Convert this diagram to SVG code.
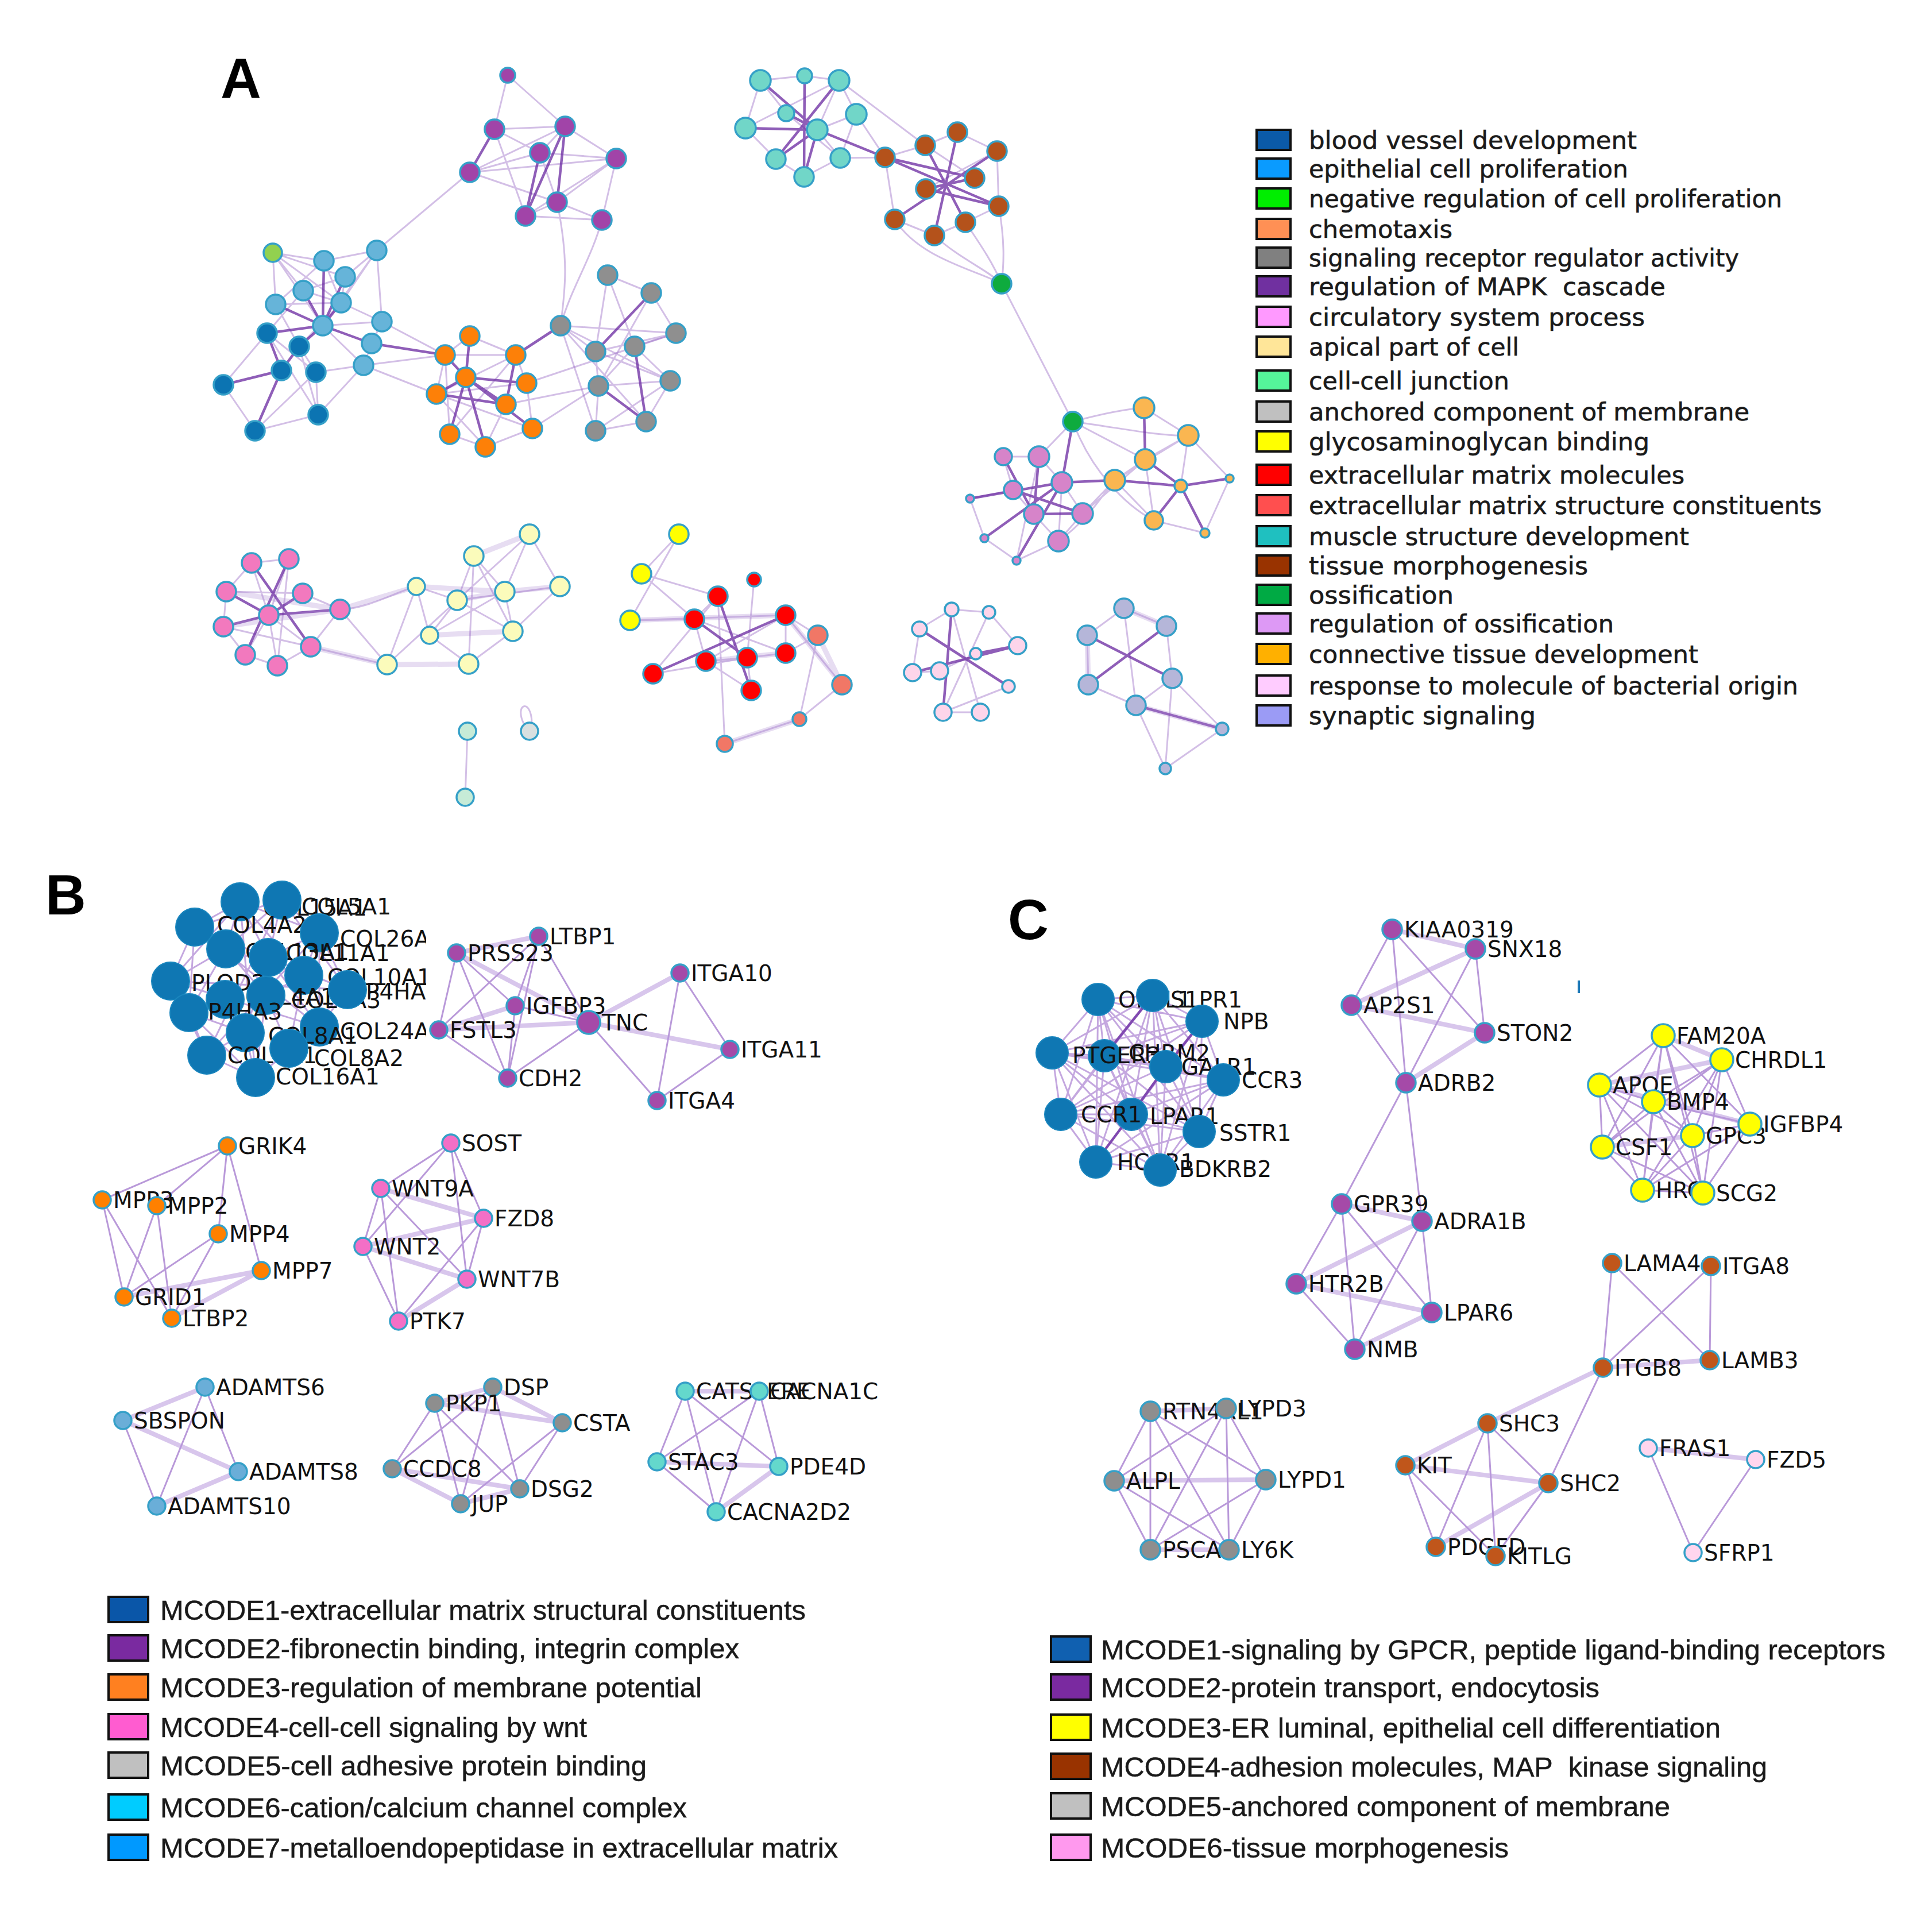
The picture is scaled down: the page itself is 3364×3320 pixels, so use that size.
<svg xmlns="http://www.w3.org/2000/svg" width="3364" height="3320" viewBox="0 0 3364 3320">
<style>
.e{fill:none;stroke:#9060c0;stroke-opacity:.4;stroke-width:3}
.ed{fill:none;stroke:#6a28a0;stroke-opacity:.75;stroke-width:4.5}
.ew{fill:none;stroke:#a884d0;stroke-opacity:.28;stroke-width:9}
.eb{fill:none;stroke:#a77fd0;stroke-opacity:.8;stroke-width:3}
.ebt{fill:none;stroke:#b898dc;stroke-opacity:.55;stroke-width:8}
.ec{fill:none;stroke:#8a50c0;stroke-opacity:.5;stroke-width:3}
.n{stroke:#35a0c8;stroke-width:3.5}
.nb{stroke:#1a86be;stroke-width:2}
.lb{font-family:"DejaVu Sans","Liberation Sans",sans-serif;font-size:39px;fill:#111}
.lg{font-family:"DejaVu Sans","Liberation Sans",sans-serif;font-size:43px;fill:#1a1a1a;stroke:#1a1a1a;stroke-width:.6}
.lm{font-family:"Liberation Sans",Arial,sans-serif;font-size:48px;fill:#1a1a1a;stroke:#1a1a1a;stroke-width:.5}
.bx{stroke:#111;stroke-width:4}
.pl{font-family:"Liberation Sans",Arial,sans-serif;font-weight:bold;font-size:98px;fill:#000}
.pu{fill:#a144a8}.lbl{fill:#66b4d9}.db{fill:#0c74b2}.gy{fill:#92d14f}.or{fill:#fd8008}.gr{fill:#8f8f8f}
.te{fill:#71d6c8}.br{fill:#b4521b}.gn{fill:#0eab3e}.pp{fill:#d684c9}.lo{fill:#fab651}.hp{fill:#f279be}
.py{fill:#fbfbbb}.ye{fill:#ffff00}.rd{fill:#ff0000}.sa{fill:#f17766}.lp{fill:#fdd5ea}.lv{fill:#b5b6d9}
.mi{fill:#c6ebd7}.lgr{fill:#d9e0e0}
.bb{fill:#0f77b3}.bp{fill:#a54aa8}.bo{fill:#ff8000}.bk{fill:#f36fc6}.bl{fill:#6aaed8}.bg{fill:#8e8e8e}
.bc{fill:#64d8cc}.cy{fill:#ffff00}.cb{fill:#c0561b}.cp{fill:#ffd6ee}
</style>
<defs>
<clipPath id="clipB"><rect x="0" y="1500" width="742" height="450"/></clipPath>
</defs>
<rect width="3364" height="3320" fill="#ffffff"/>

<text class="pl" x="384" y="170">A</text>
<text class="pl" x="79" y="1592">B</text>
<text class="pl" x="1755" y="1635">C</text>

<g id="connectors">
<path class="e" d="M884,131L861,225M884,131L984,220M861,225L984,220M861,225L940,266M861,225L915,376M984,220L940,266M984,220L1073,276M984,220L818,300M940,266L1073,276M940,266L818,300M940,266L970,352M1073,276L970,352M1073,276L915,376M1073,276L1048,383M818,300L970,352M818,300L1073,276M970,352L1048,383M915,376L1048,383M970,352L915,376M818,300L656,436M970,352C990,450 985,500 976,567M1048,383C1030,450 995,500 976,567"/>
<path class="ed" d="M861,225L818,300M984,220L915,376M940,266L915,376M984,220L970,352"/>
<path class="e" d="M475,440L564,454M475,440L601,482M475,440L528,506M475,440L594,527M475,440L562,567M475,440L480,530M564,454L656,436M564,454L480,530M564,454L594,527M656,436L601,482M656,436L594,527M656,436L562,567M656,436L665,560M601,482L528,506M601,482L594,527M528,506L594,527M480,530L594,527M594,527L665,560M562,567L665,560M665,560L647,598M647,598L633,636M562,567L633,636M528,506L465,580M480,530L521,603M465,580L550,648M521,603L550,648M550,648L554,722M465,580L389,670M554,722L444,750M521,603L554,722M465,580L554,722M594,527L521,603M633,636L550,648M633,636L554,722M665,560L775,618M633,636L775,618M633,636L760,686M389,670L444,750M444,750L550,648"/>
<path class="ed" d="M564,454L562,567M601,482L562,567M480,530L562,567M528,506L562,567M594,527L562,567M562,567L647,598M562,567L521,603M562,567L465,580M521,603L490,645M490,645L389,670M490,645L444,750M647,598L775,618M465,580L490,645"/>
<path class="e" d="M818,585L775,618M818,585L898,618M775,618L898,618M775,618L760,686M898,618L917,667M898,618L760,686M917,667L760,686M760,686L927,746M760,686L845,778M881,704L845,778M783,756L845,778M927,746L845,778M917,667L927,746M775,618L783,756M898,618L783,756M917,667L1177,580M881,704L1042,672M927,746L1042,672"/>
<path class="ed" d="M818,585L811,657M811,657L881,704M811,657L917,667M811,657L760,686M811,657L845,778M811,657L927,746M811,657L783,756M775,618L811,657M898,618L881,704M898,618L976,567M881,704L760,686"/>
<path class="e" d="M1058,479L1134,510M1058,479L1105,603M1058,479L1037,612M1134,510L1177,580M1134,510L1042,672M976,567L1177,580M976,567L1037,612M976,567L1167,663M976,567L1125,734M1177,580L1105,603M1177,580L1037,612M1105,603L1042,672M1105,603L1167,663M1037,612L1042,672M1037,612L1167,663M1042,672L1037,750M1167,663L1125,734M1167,663L1037,750M1125,734L1037,750M1042,672L1167,663M976,567L1037,750"/>
<path class="ed" d="M1134,510L1037,612M1105,603L1125,734M1042,672L1125,734"/>
<path class="e" d="M1324,140L1401,132M1401,132L1461,140M1324,140L1369,197M1324,140L1298,223M1461,140L1491,199M1491,199L1423,226M1491,199L1463,275M1298,223L1351,277M1351,277L1400,308M1463,275L1400,308M1369,197L1463,275M1461,140L1423,226M1423,226L1463,275M1298,223L1461,140M1491,199L1541,274M1463,275L1541,274M1461,140L1611,253"/>
<path class="ed" d="M1324,140L1423,226M1401,132L1400,308M1461,140L1351,277M1298,223L1423,226M1369,197L1423,226M1351,277L1423,226M1423,226L1541,274M1400,308L1423,226"/>
<path class="e" d="M1541,274L1611,253M1611,253L1667,230M1667,230L1736,263M1736,263L1739,359M1739,359L1681,387M1681,387L1627,410M1627,410L1558,382M1558,382L1541,274M1612,329L1736,263M1697,310L1611,253M1558,382C1600,450 1700,470 1744,494M1627,410C1670,450 1720,470 1744,494M1681,387C1710,430 1730,460 1744,494M1739,359C1750,420 1748,460 1744,494M1744,494L1868,734"/>
<path class="ed" d="M1541,274L1739,359M1611,253L1681,387M1667,230L1627,410M1736,263L1558,382M1697,310L1612,329M1612,329L1739,359M1541,274L1697,310"/>
<path class="e" d="M1868,734L1809,795M1868,734C1920,720 1960,712 1992,710M1868,734L1994,800M1868,734C1950,745 2020,760 2069,758M1868,734C1900,820 1960,880 2009,906M1747,795L1809,795M1809,795L1849,840M1849,840L1885,894M1885,894L1843,942M1800,895L1843,942M1747,795L1764,853M1764,853L1689,868M1689,868L1714,937M1714,937L1770,976M1770,976L1843,942M1770,976L1809,795M1849,840L1843,942M1764,853L1800,895M1885,894L1941,836M1885,894L1994,800M1843,942C1900,900 1920,860 1941,836M1992,710L2069,758M2069,758L1994,800M1994,800L1941,836M2069,758L2141,833M2141,833L2098,928M1941,836L2009,906M2009,906L2098,928M2069,758L2056,846M1994,800L2009,906M1941,836L2069,758"/>
<path class="ed" d="M1868,734L1849,840M1747,795L1800,895M1809,795L1800,895M1764,853L1885,894M1689,868L1849,840M1714,937L1849,840M1849,840L1770,976M1800,895L1885,894M1849,840L1941,836M1992,710L1994,800M1941,836L2056,846M2056,846L2141,833M2056,846L2098,928M1994,800L2056,846M2056,846L2009,906"/>
<path class="e" d="M468,1071L438,980M468,1071L503,973M468,1071L541,1126M468,1071L427,1140M468,1071L483,1159M438,980L503,973M503,973L483,1159M394,1030L527,1033M389,1091L541,1126M427,1140L483,1159M394,1030L389,1091M527,1033L592,1061M592,1061L541,1126M438,980L394,1030M541,1126L483,1159M389,1091L427,1140M592,1061C640,1060 690,1030 725,1021M592,1061L674,1157M541,1126C600,1140 640,1150 674,1157"/>
<path class="ed" d="M468,1071L394,1030M468,1071L527,1033M468,1071L592,1061M468,1071L389,1091M438,980L541,1126M503,973L427,1140"/>
<path class="ew" d="M394,1030L592,1061M389,1091L592,1061M592,1061L725,1021M541,1126L674,1157M922,930L825,968M725,1021L879,1030M975,1021L879,1030M674,1157L816,1156M748,1106L893,1099M796,1045L879,1030"/>
<path class="e" d="M922,930L975,1021M922,930L796,1045M922,930L879,1030M825,968L879,1030M825,968L816,1156M825,968L893,1099M725,1021L796,1045M725,1021L674,1157M975,1021L893,1099M796,1045L674,1157M796,1045L748,1106M796,1045L893,1099M879,1030L748,1106M879,1030L893,1099M725,1021L748,1106M975,1021L796,1045M825,968L796,1045M748,1106L816,1156M893,1099L816,1156M814,1273L810,1388M912,1260C895,1225 925,1215 926,1258"/>
<path class="e" d="M1182,930L1117,999M1182,930L1097,1080M1117,999L1250,1038M1117,999L1209,1078M1097,1080L1209,1078M1097,1080L1368,1071M1250,1038L1209,1078M1209,1078L1229,1151M1368,1071L1229,1151M1368,1071L1368,1137M1229,1151L1308,1202M1301,1145L1308,1202M1313,1009L1301,1145M1137,1173L1250,1038M1137,1173L1301,1145M1368,1137L1424,1106M1424,1106L1392,1252M1466,1192L1392,1252M1466,1192L1368,1071M1392,1252L1262,1295M1262,1295L1250,1038M1368,1071L1424,1106M1229,1151L1301,1145M1368,1137L1301,1145M1209,1078L1368,1137"/>
<path class="ed" d="M1250,1038L1308,1202M1368,1071L1137,1173M1209,1078L1301,1145"/>
<path class="ew" d="M1097,1080L1368,1071M1229,1151L1368,1137M1466,1192L1368,1071M1392,1252L1262,1295M1424,1106L1466,1192"/>
<path class="e" d="M1657,1061L1722,1066M1601,1095L1657,1061M1772,1124L1722,1066M1589,1171L1636,1168M1642,1240L1707,1240M1756,1195L1642,1240M1722,1066L1642,1240M1657,1061L1707,1240M1636,1168L1699,1138M1601,1095L1589,1171"/>
<path class="ed" d="M1601,1095L1756,1195M1589,1171L1772,1124M1657,1061L1642,1240M1699,1138L1772,1124"/>
<path class="e" d="M1957,1059L2031,1090M1957,1059L1893,1106M1957,1059L1978,1228M1893,1106L1895,1192M2031,1090L2041,1181M1895,1192L1978,1228M2041,1181L1978,1228M2041,1181L2029,1338M2128,1269L2029,1338M2041,1181L2128,1269M1978,1228L2029,1338"/>
<path class="ed" d="M1893,1106L2041,1181M2031,1090L1895,1192M1978,1228L2128,1269"/>
<path class="ew" d="M1957,1059L2031,1090M1893,1106L1895,1192M1978,1228L2128,1269"/>

<path class="ec" d="M418,1570L339,1614M418,1570L556,1624M418,1570L393,1652M418,1570L467,1667M418,1570L529,1698M418,1570L297,1708M491,1567L339,1614M491,1567L556,1624M491,1567L393,1652M491,1567L467,1667M491,1567L605,1723M339,1614L393,1652M339,1614L467,1667M339,1614L297,1708M339,1614L329,1763M556,1624L467,1667M556,1624L529,1698M556,1624L605,1723M556,1624L556,1788M393,1652L297,1708M393,1652L529,1698M393,1652L463,1733M393,1652L329,1763M467,1667L605,1723M467,1667L556,1788M467,1667L427,1798M297,1708L329,1763M297,1708L360,1837M297,1708L556,1788M529,1698L463,1733M529,1698L503,1825M605,1723L556,1788M605,1723L503,1825M329,1763L427,1798M329,1763L360,1837M329,1763L445,1876M463,1733L503,1825M463,1733L445,1876M556,1788L503,1825M556,1788L445,1876M427,1798L360,1837M427,1798L445,1876M360,1837L445,1876M339,1614L556,1788M297,1708L605,1723M491,1567L360,1837M418,1570L445,1876M556,1624L360,1837"/>
<path class="eb" d="M795,1659L764,1793M795,1659L897,1751M795,1659L884,1877M938,1630L764,1793M938,1630L897,1751M938,1630L1025,1780M938,1630L884,1877M764,1793L884,1877M897,1751L884,1877M1025,1780L884,1877M1025,1780L1144,1916M1184,1694L1271,1827M1184,1694L1144,1916M1271,1827L1144,1916M897,1751L1025,1780"/>
<path class="ebt" d="M795,1659L938,1630M795,1659L1025,1780M764,1793L1025,1780M764,1793L897,1751M1025,1780L1184,1694M1025,1780L1271,1827"/>
<path class="eb" d="M396,1995L178,2089M396,1995L273,2099M396,1995L380,2148M396,1995L455,2212M178,2089L216,2258M178,2089L299,2295M273,2099L216,2258M273,2099L299,2295M380,2148L216,2258M380,2148L299,2295"/>
<path class="ebt" d="M455,2212L216,2258M455,2212L299,2295"/>
<path class="eb" d="M785,1990L663,2069M785,1990L632,2170M785,1990L842,2121M785,1990L813,2227M663,2069L632,2170M663,2069L813,2227M663,2069L694,2300M632,2170L694,2300M842,2121L813,2227M842,2121L694,2300"/>
<path class="ebt" d="M663,2069L842,2121M632,2170L842,2121M632,2170L813,2227M813,2227L694,2300"/>
<path class="eb" d="M357,2415L415,2562M357,2415L273,2622M214,2473L273,2622"/>
<path class="ebt" d="M357,2415L214,2473M214,2473L415,2562M415,2562L273,2622"/>
<path class="eb" d="M757,2443L683,2557M757,2443L802,2618M757,2443L905,2592M858,2415L683,2557M858,2415L802,2618M858,2415L905,2592M979,2477L802,2618M979,2477L905,2592"/>
<path class="ebt" d="M757,2443L858,2415M858,2415L979,2477M757,2443L979,2477M683,2557L905,2592M802,2618L905,2592M683,2557L802,2618"/>
<path class="eb" d="M1193,2422L1144,2545M1193,2422L1356,2553M1193,2422L1247,2632M1322,2422L1144,2545M1322,2422L1356,2553M1322,2422L1247,2632M1144,2545L1247,2632"/>
<path class="ebt" d="M1193,2422L1322,2422M1144,2545L1356,2553M1356,2553L1247,2632"/>

<path class="ec" d="M1912,1740L2007,1733M1912,1740L2093,1778M1912,1740L1832,1833M1912,1740L1923,1838M1912,1740L2030,1857M1912,1740L2130,1880M1912,1740L1847,1940M1912,1740L1970,1940M1912,1740L2088,1970M1912,1740L1908,2023M1912,1740L2020,2037M2007,1733L2093,1778M2007,1733L1832,1833M2007,1733L1923,1838M2007,1733L2030,1857M2007,1733L2130,1880M2007,1733L1847,1940M2007,1733L1970,1940M2007,1733L2088,1970M2007,1733L1908,2023M2007,1733L2020,2037M2093,1778L1832,1833M2093,1778L1923,1838M2093,1778L2030,1857M2093,1778L2130,1880M2093,1778L1847,1940M2093,1778L1970,1940M2093,1778L2088,1970M2093,1778L1908,2023M2093,1778L2020,2037M1832,1833L1923,1838M1832,1833L2030,1857M1832,1833L2130,1880M1832,1833L1847,1940M1832,1833L1970,1940M1832,1833L2088,1970M1832,1833L1908,2023M1832,1833L2020,2037M1923,1838L2030,1857M1923,1838L2130,1880M1923,1838L1847,1940M1923,1838L1970,1940M1923,1838L2088,1970M1923,1838L1908,2023M1923,1838L2020,2037M2030,1857L2130,1880M2030,1857L1847,1940M2030,1857L1970,1940M2030,1857L2088,1970M2030,1857L1908,2023M2030,1857L2020,2037M2130,1880L1847,1940M2130,1880L1970,1940M2130,1880L2088,1970M2130,1880L1908,2023M2130,1880L2020,2037M1847,1940L1970,1940M1847,1940L2088,1970M1847,1940L1908,2023M1847,1940L2020,2037M1970,1940L2088,1970M1970,1940L1908,2023M1970,1940L2020,2037M2088,1970L1908,2023M2088,1970L2020,2037M1908,2023L2020,2037"/>
<path class="ed" d="M2007,1733L1923,1838M2093,1778L2030,1857M2030,1857L1970,1940M1970,1940L1908,2023"/>
<path class="eb" d="M2424,1618L2353,1750M2424,1618L2585,1798M2424,1618L2448,1885M2569,1652L2585,1798M2569,1652L2448,1885M2353,1750L2448,1885M2448,1885L2336,2096M2448,1885L2476,2126M2336,2096L2257,2235M2336,2096L2359,2349M2336,2096L2493,2285M2476,2126L2359,2349M2476,2126L2493,2285M2257,2235L2359,2349"/>
<path class="ebt" d="M2424,1618L2569,1652M2569,1652L2353,1750M2353,1750L2585,1798M2585,1798L2448,1885M2336,2096L2476,2126M2476,2126L2257,2235M2257,2235L2493,2285M2493,2285L2359,2349"/>
<path class="eb" d="M2896,1803L2785,1889M2896,1803L2879,1918M2896,1803L3047,1957M2896,1803L2947,1977M2896,1803L2790,1997M2896,1803L2860,2072M2896,1803L2965,2077M2998,1845L2879,1918M2998,1845L3047,1957M2998,1845L2947,1977M2998,1845L2790,1997M2998,1845L2860,2072M2998,1845L2965,2077M2785,1889L2879,1918M2785,1889L2947,1977M2785,1889L2790,1997M2785,1889L2860,2072M2785,1889L2965,2077M2879,1918L3047,1957M2879,1918L2947,1977M2879,1918L2790,1997M2879,1918L2860,2072M2879,1918L2965,2077M3047,1957L2947,1977M3047,1957L2860,2072M3047,1957L2965,2077M2947,1977L2860,2072M2947,1977L2965,2077M2790,1997L2860,2072M2790,1997L2965,2077M2860,2072L2965,2077"/>
<path class="ebt" d="M2896,1803L2998,1845M2998,1845L2785,1889M2785,1889L3047,1957M2947,1977L2790,1997"/>
<path class="eb" d="M2807,2199L2791,2381M2807,2199L2977,2368M2979,2204L2791,2381M2979,2204L2977,2368M2791,2381L2696,2582M2590,2478L2696,2582M2590,2478L2500,2693M2590,2478L2604,2709M2447,2551L2500,2693M2447,2551L2604,2709M2696,2582L2604,2709"/>
<path class="ebt" d="M2791,2381L2977,2368M2791,2381L2590,2478M2590,2478L2447,2551M2447,2551L2696,2582M2696,2582L2500,2693"/>
<path class="eb" d="M2003,2457L1940,2578M2003,2457L2204,2576M2003,2457L2003,2698M2003,2457L2140,2698M2135,2452L1940,2578M2135,2452L2204,2576M2135,2452L2003,2698M2135,2452L2140,2698M1940,2578L2003,2698M1940,2578L2140,2698M2204,2576L2003,2698M2204,2576L2140,2698"/>
<path class="ebt" d="M1940,2578L2204,2576M2003,2457L2135,2452M2003,2698L2140,2698"/>
<path class="eb" d="M2870,2521L2948,2703M3057,2541L2948,2703"/>
<path class="ebt" d="M2870,2521L3057,2541"/>
<path d="M2749,1707L2749,1729" stroke="#1f7ab8" stroke-width="4" fill="none"/>
</g>

<g id="a-pu1"><circle class="n pu" cx="884" cy="131" r="13"/></g>
<g id="a-pu2"><circle class="n pu" cx="861" cy="225" r="17"/></g>
<g id="a-pu3"><circle class="n pu" cx="984" cy="220" r="17"/></g>
<g id="a-pu4"><circle class="n pu" cx="940" cy="266" r="17"/></g>
<g id="a-pu5"><circle class="n pu" cx="1073" cy="276" r="17"/></g>
<g id="a-pu6"><circle class="n pu" cx="818" cy="300" r="17"/></g>
<g id="a-pu7"><circle class="n pu" cx="970" cy="352" r="17"/></g>
<g id="a-pu8"><circle class="n pu" cx="915" cy="376" r="17"/></g>
<g id="a-pu9"><circle class="n pu" cx="1048" cy="383" r="17"/></g>
<g id="a-gy1"><circle class="n gy" cx="475" cy="440" r="16"/></g>
<g id="a-lb1"><circle class="n lbl" cx="564" cy="454" r="17"/></g>
<g id="a-lb2"><circle class="n lbl" cx="656" cy="436" r="17"/></g>
<g id="a-lb3"><circle class="n lbl" cx="601" cy="482" r="17"/></g>
<g id="a-lb4"><circle class="n lbl" cx="528" cy="506" r="17"/></g>
<g id="a-lb5"><circle class="n lbl" cx="480" cy="530" r="17"/></g>
<g id="a-lb6"><circle class="n lbl" cx="594" cy="527" r="17"/></g>
<g id="a-lb7"><circle class="n lbl" cx="562" cy="567" r="17"/></g>
<g id="a-lb8"><circle class="n lbl" cx="665" cy="560" r="17"/></g>
<g id="a-lb9"><circle class="n lbl" cx="647" cy="598" r="17"/></g>
<g id="a-lb10"><circle class="n lbl" cx="633" cy="636" r="17"/></g>
<g id="a-db1"><circle class="n db" cx="465" cy="580" r="17"/></g>
<g id="a-db2"><circle class="n db" cx="521" cy="603" r="17"/></g>
<g id="a-db3"><circle class="n db" cx="490" cy="645" r="17"/></g>
<g id="a-db4"><circle class="n db" cx="550" cy="648" r="17"/></g>
<g id="a-db5"><circle class="n db" cx="389" cy="670" r="17"/></g>
<g id="a-db6"><circle class="n db" cx="554" cy="722" r="17"/></g>
<g id="a-db7"><circle class="n db" cx="444" cy="750" r="17"/></g>
<g id="a-or1"><circle class="n or" cx="818" cy="585" r="17"/></g>
<g id="a-or2"><circle class="n or" cx="775" cy="618" r="17"/></g>
<g id="a-or3"><circle class="n or" cx="898" cy="618" r="17"/></g>
<g id="a-or4"><circle class="n or" cx="811" cy="657" r="17"/></g>
<g id="a-or5"><circle class="n or" cx="917" cy="667" r="17"/></g>
<g id="a-or6"><circle class="n or" cx="760" cy="686" r="17"/></g>
<g id="a-or7"><circle class="n or" cx="881" cy="704" r="17"/></g>
<g id="a-or8"><circle class="n or" cx="927" cy="746" r="17"/></g>
<g id="a-or9"><circle class="n or" cx="783" cy="756" r="17"/></g>
<g id="a-or10"><circle class="n or" cx="845" cy="778" r="17"/></g>
<g id="a-gr1"><circle class="n gr" cx="1058" cy="479" r="17"/></g>
<g id="a-gr2"><circle class="n gr" cx="1134" cy="510" r="17"/></g>
<g id="a-gr3"><circle class="n gr" cx="976" cy="567" r="17"/></g>
<g id="a-gr4"><circle class="n gr" cx="1177" cy="580" r="17"/></g>
<g id="a-gr5"><circle class="n gr" cx="1105" cy="603" r="17"/></g>
<g id="a-gr6"><circle class="n gr" cx="1037" cy="612" r="17"/></g>
<g id="a-gr7"><circle class="n gr" cx="1042" cy="672" r="17"/></g>
<g id="a-gr8"><circle class="n gr" cx="1167" cy="663" r="17"/></g>
<g id="a-gr9"><circle class="n gr" cx="1125" cy="734" r="17"/></g>
<g id="a-gr10"><circle class="n gr" cx="1037" cy="750" r="17"/></g>
<g id="a-te1"><circle class="n te" cx="1324" cy="140" r="18"/></g>
<g id="a-te2"><circle class="n te" cx="1401" cy="132" r="13"/></g>
<g id="a-te3"><circle class="n te" cx="1461" cy="140" r="18"/></g>
<g id="a-te4"><circle class="n te" cx="1369" cy="197" r="14"/></g>
<g id="a-te5"><circle class="n te" cx="1491" cy="199" r="18"/></g>
<g id="a-te6"><circle class="n te" cx="1298" cy="223" r="18"/></g>
<g id="a-te7"><circle class="n te" cx="1423" cy="226" r="18"/></g>
<g id="a-te8"><circle class="n te" cx="1351" cy="277" r="17"/></g>
<g id="a-te9"><circle class="n te" cx="1463" cy="275" r="17"/></g>
<g id="a-te10"><circle class="n te" cx="1400" cy="308" r="17"/></g>
<g id="a-br1"><circle class="n br" cx="1667" cy="230" r="17"/></g>
<g id="a-br2"><circle class="n br" cx="1611" cy="253" r="17"/></g>
<g id="a-br3"><circle class="n br" cx="1736" cy="263" r="17"/></g>
<g id="a-br4"><circle class="n br" cx="1541" cy="274" r="17"/></g>
<g id="a-br5"><circle class="n br" cx="1697" cy="310" r="17"/></g>
<g id="a-br6"><circle class="n br" cx="1612" cy="329" r="17"/></g>
<g id="a-br7"><circle class="n br" cx="1739" cy="359" r="17"/></g>
<g id="a-br8"><circle class="n br" cx="1558" cy="382" r="17"/></g>
<g id="a-br9"><circle class="n br" cx="1681" cy="387" r="17"/></g>
<g id="a-br10"><circle class="n br" cx="1627" cy="410" r="17"/></g>
<g id="a-gn1"><circle class="n gn" cx="1744" cy="494" r="17"/></g>
<g id="a-gn2"><circle class="n gn" cx="1868" cy="734" r="17"/></g>
<g id="a-pp1"><circle class="n pp" cx="1747" cy="795" r="15"/></g>
<g id="a-pp2"><circle class="n pp" cx="1809" cy="795" r="18"/></g>
<g id="a-pp3"><circle class="n pp" cx="1849" cy="840" r="18"/></g>
<g id="a-pp4"><circle class="n pp" cx="1764" cy="853" r="16"/></g>
<g id="a-pp5"><circle class="n pp" cx="1885" cy="894" r="18"/></g>
<g id="a-pp6"><circle class="n pp" cx="1800" cy="895" r="17"/></g>
<g id="a-pp7"><circle class="n pp" cx="1843" cy="942" r="18"/></g>
<g id="a-pp8"><circle class="n pp" cx="1689" cy="868" r="7"/></g>
<g id="a-pp9"><circle class="n pp" cx="1714" cy="937" r="7"/></g>
<g id="a-pp10"><circle class="n pp" cx="1770" cy="976" r="7"/></g>
<g id="a-lo1"><circle class="n lo" cx="1992" cy="710" r="18"/></g>
<g id="a-lo2"><circle class="n lo" cx="2069" cy="758" r="18"/></g>
<g id="a-lo3"><circle class="n lo" cx="1994" cy="800" r="18"/></g>
<g id="a-lo4"><circle class="n lo" cx="1941" cy="836" r="18"/></g>
<g id="a-lo5"><circle class="n lo" cx="2056" cy="846" r="11"/></g>
<g id="a-lo6"><circle class="n lo" cx="2141" cy="833" r="7"/></g>
<g id="a-lo7"><circle class="n lo" cx="2009" cy="906" r="16"/></g>
<g id="a-lo8"><circle class="n lo" cx="2098" cy="928" r="8"/></g>
<g id="a-hp1"><circle class="n hp" cx="438" cy="980" r="17"/></g>
<g id="a-hp2"><circle class="n hp" cx="503" cy="973" r="17"/></g>
<g id="a-hp3"><circle class="n hp" cx="394" cy="1030" r="17"/></g>
<g id="a-hp4"><circle class="n hp" cx="527" cy="1033" r="17"/></g>
<g id="a-hp5"><circle class="n hp" cx="468" cy="1071" r="17"/></g>
<g id="a-hp6"><circle class="n hp" cx="592" cy="1061" r="17"/></g>
<g id="a-hp7"><circle class="n hp" cx="389" cy="1091" r="17"/></g>
<g id="a-hp8"><circle class="n hp" cx="541" cy="1126" r="17"/></g>
<g id="a-hp9"><circle class="n hp" cx="427" cy="1140" r="17"/></g>
<g id="a-hp10"><circle class="n hp" cx="483" cy="1159" r="17"/></g>
<g id="a-py1"><circle class="n py" cx="922" cy="930" r="17"/></g>
<g id="a-py2"><circle class="n py" cx="825" cy="968" r="17"/></g>
<g id="a-py3"><circle class="n py" cx="725" cy="1021" r="15"/></g>
<g id="a-py4"><circle class="n py" cx="975" cy="1021" r="17"/></g>
<g id="a-py5"><circle class="n py" cx="796" cy="1045" r="17"/></g>
<g id="a-py6"><circle class="n py" cx="879" cy="1030" r="17"/></g>
<g id="a-py7"><circle class="n py" cx="748" cy="1106" r="15"/></g>
<g id="a-py8"><circle class="n py" cx="893" cy="1099" r="17"/></g>
<g id="a-py9"><circle class="n py" cx="674" cy="1157" r="17"/></g>
<g id="a-py10"><circle class="n py" cx="816" cy="1156" r="17"/></g>
<g id="a-ye1"><circle class="n ye" cx="1182" cy="930" r="17"/></g>
<g id="a-ye2"><circle class="n ye" cx="1117" cy="999" r="17"/></g>
<g id="a-ye3"><circle class="n ye" cx="1097" cy="1080" r="17"/></g>
<g id="a-rd1"><circle class="n rd" cx="1313" cy="1009" r="12"/></g>
<g id="a-rd2"><circle class="n rd" cx="1250" cy="1038" r="17"/></g>
<g id="a-rd3"><circle class="n rd" cx="1209" cy="1078" r="17"/></g>
<g id="a-rd4"><circle class="n rd" cx="1368" cy="1071" r="17"/></g>
<g id="a-rd5"><circle class="n rd" cx="1368" cy="1137" r="17"/></g>
<g id="a-rd6"><circle class="n rd" cx="1229" cy="1151" r="17"/></g>
<g id="a-rd7"><circle class="n rd" cx="1301" cy="1145" r="17"/></g>
<g id="a-rd8"><circle class="n rd" cx="1137" cy="1173" r="17"/></g>
<g id="a-rd9"><circle class="n rd" cx="1308" cy="1202" r="17"/></g>
<g id="a-sa1"><circle class="n sa" cx="1424" cy="1106" r="17"/></g>
<g id="a-sa2"><circle class="n sa" cx="1466" cy="1192" r="17"/></g>
<g id="a-sa3"><circle class="n sa" cx="1392" cy="1252" r="12"/></g>
<g id="a-sa4"><circle class="n sa" cx="1262" cy="1295" r="14"/></g>
<g id="a-lp1"><circle class="n lp" cx="1657" cy="1061" r="12"/></g>
<g id="a-lp2"><circle class="n lp" cx="1722" cy="1066" r="11"/></g>
<g id="a-lp3"><circle class="n lp" cx="1601" cy="1095" r="13"/></g>
<g id="a-lp4"><circle class="n lp" cx="1772" cy="1124" r="15"/></g>
<g id="a-lp5"><circle class="n lp" cx="1699" cy="1138" r="10"/></g>
<g id="a-lp6"><circle class="n lp" cx="1589" cy="1171" r="15"/></g>
<g id="a-lp7"><circle class="n lp" cx="1636" cy="1168" r="15"/></g>
<g id="a-lp8"><circle class="n lp" cx="1756" cy="1195" r="11"/></g>
<g id="a-lp9"><circle class="n lp" cx="1642" cy="1240" r="15"/></g>
<g id="a-lp10"><circle class="n lp" cx="1707" cy="1240" r="15"/></g>
<g id="a-lv1"><circle class="n lv" cx="1957" cy="1059" r="17"/></g>
<g id="a-lv2"><circle class="n lv" cx="2031" cy="1090" r="17"/></g>
<g id="a-lv3"><circle class="n lv" cx="1893" cy="1106" r="17"/></g>
<g id="a-lv4"><circle class="n lv" cx="2041" cy="1181" r="17"/></g>
<g id="a-lv5"><circle class="n lv" cx="1895" cy="1192" r="17"/></g>
<g id="a-lv6"><circle class="n lv" cx="1978" cy="1228" r="17"/></g>
<g id="a-lv7"><circle class="n lv" cx="2128" cy="1269" r="11"/></g>
<g id="a-lv8"><circle class="n lv" cx="2029" cy="1338" r="10"/></g>
<g id="a-mi1"><circle class="n mi" cx="814" cy="1273" r="15"/></g>
<g id="a-mi2"><circle class="n mi" cx="810" cy="1388" r="15"/></g>
<g id="a-lg1"><circle class="n lgr" cx="922" cy="1273" r="15"/></g>

<g id="legend-a">
<rect class="bx" x="2188" y="226" width="59" height="35" fill="#0b5aa8"/><text class="lg" x="2279" y="259" textLength="571" lengthAdjust="spacingAndGlyphs">blood vessel development</text>
<rect class="bx" x="2188" y="276" width="59" height="35" fill="#0a9bff"/><text class="lg" x="2279" y="309" textLength="556" lengthAdjust="spacingAndGlyphs">epithelial cell proliferation</text>
<rect class="bx" x="2188" y="328" width="59" height="35" fill="#00ee00"/><text class="lg" x="2279" y="361" textLength="824" lengthAdjust="spacingAndGlyphs">negative regulation of cell proliferation</text>
<rect class="bx" x="2188" y="381" width="59" height="35" fill="#ff9055"/><text class="lg" x="2279" y="414" textLength="250" lengthAdjust="spacingAndGlyphs">chemotaxis</text>
<rect class="bx" x="2188" y="431" width="59" height="35" fill="#808080"/><text class="lg" x="2279" y="464" textLength="749" lengthAdjust="spacingAndGlyphs">signaling receptor regulator activity</text>
<rect class="bx" x="2188" y="481" width="59" height="35" fill="#7030a0"/><text class="lg" x="2279" y="514" textLength="621" lengthAdjust="spacingAndGlyphs">regulation of MAPK&#160; cascade</text>
<rect class="bx" x="2188" y="534" width="59" height="35" fill="#ff99ff"/><text class="lg" x="2279" y="567" textLength="585" lengthAdjust="spacingAndGlyphs">circulatory system process</text>
<rect class="bx" x="2188" y="586" width="59" height="35" fill="#ffe699"/><text class="lg" x="2279" y="619" textLength="366" lengthAdjust="spacingAndGlyphs">apical part of cell</text>
<rect class="bx" x="2188" y="645" width="59" height="35" fill="#55f59a"/><text class="lg" x="2279" y="678" textLength="349" lengthAdjust="spacingAndGlyphs">cell-cell junction</text>
<rect class="bx" x="2188" y="699" width="59" height="35" fill="#c0c0c0"/><text class="lg" x="2279" y="732" textLength="767" lengthAdjust="spacingAndGlyphs">anchored component of membrane</text>
<rect class="bx" x="2188" y="751" width="59" height="35" fill="#ffff00"/><text class="lg" x="2279" y="784" textLength="593" lengthAdjust="spacingAndGlyphs">glycosaminoglycan binding</text>
<rect class="bx" x="2188" y="809" width="59" height="35" fill="#ff0000"/><text class="lg" x="2279" y="842" textLength="654" lengthAdjust="spacingAndGlyphs">extracellular matrix molecules</text>
<rect class="bx" x="2188" y="862" width="59" height="35" fill="#ff4f4f"/><text class="lg" x="2279" y="895" textLength="893" lengthAdjust="spacingAndGlyphs">extracellular matrix structure constituents</text>
<rect class="bx" x="2188" y="916" width="59" height="35" fill="#1fc0c0"/><text class="lg" x="2279" y="949" textLength="662" lengthAdjust="spacingAndGlyphs">muscle structure development</text>
<rect class="bx" x="2188" y="967" width="59" height="35" fill="#993300"/><text class="lg" x="2279" y="1000" textLength="486" lengthAdjust="spacingAndGlyphs">tissue morphogenesis</text>
<rect class="bx" x="2188" y="1018" width="59" height="35" fill="#00aa44"/><text class="lg" x="2279" y="1051" textLength="252" lengthAdjust="spacingAndGlyphs">ossification</text>
<rect class="bx" x="2188" y="1068" width="59" height="35" fill="#dd99f5"/><text class="lg" x="2279" y="1101" textLength="531" lengthAdjust="spacingAndGlyphs">regulation of ossification</text>
<rect class="bx" x="2188" y="1121" width="59" height="35" fill="#ffb000"/><text class="lg" x="2279" y="1154" textLength="678" lengthAdjust="spacingAndGlyphs">connective tissue development</text>
<rect class="bx" x="2188" y="1176" width="59" height="35" fill="#ffccff"/><text class="lg" x="2279" y="1209" textLength="852" lengthAdjust="spacingAndGlyphs">response to molecule of bacterial origin</text>
<rect class="bx" x="2188" y="1228" width="59" height="35" fill="#9b9bf5"/><text class="lg" x="2279" y="1261" textLength="395" lengthAdjust="spacingAndGlyphs">synaptic signaling</text>
</g>

<g clip-path="url(#clipB)">
<g id="b-col15a1"><circle class="nb bb" cx="418" cy="1570" r="33"/><text class="lb" x="458" y="1594">COL15A1</text></g>
<g id="b-col5a1"><circle class="nb bb" cx="491" cy="1567" r="33"/><text class="lb" x="525" y="1592">COL5A1</text></g>
<g id="b-col4a2"><circle class="nb bb" cx="339" cy="1614" r="33"/><text class="lb" x="378" y="1624">COL4A2</text></g>
<g id="b-col26a1"><circle class="nb bb" cx="556" cy="1624" r="33"/><text class="lb" x="592" y="1648">COL26A1</text></g>
<g id="b-col13a1"><circle class="nb bb" cx="393" cy="1652" r="33"/><text class="lb" x="427" y="1671">COL13A1</text></g>
<g id="b-col11a1"><circle class="nb bb" cx="467" cy="1667" r="33"/><text class="lb" x="498" y="1673">COL11A1</text></g>
<g id="b-plod2"><circle class="nb bb" cx="297" cy="1708" r="33"/><text class="lb" x="333" y="1725">PLOD2</text></g>
<g id="b-col10a1"><circle class="nb bb" cx="529" cy="1698" r="33"/><text class="lb" x="570" y="1715">COL10A1</text></g>
<g id="b-col4a1"><circle class="nb bb" cx="392" cy="1740" r="33"/><text class="lb" x="427" y="1749">COL4A1</text></g>
<g id="b-col6a3"><circle class="nb bb" cx="463" cy="1733" r="33"/><text class="lb" x="507" y="1755">COL6A3</text></g>
<g id="b-p4ha1"><circle class="nb bb" cx="605" cy="1723" r="33"/><text class="lb" x="637" y="1740">P4HA1</text></g>
<g id="b-p4ha3"><circle class="nb bb" cx="329" cy="1763" r="33"/><text class="lb" x="362" y="1775">P4HA3</text></g>
<g id="b-col24a1"><circle class="nb bb" cx="556" cy="1788" r="33"/><text class="lb" x="592" y="1809">COL24A1</text></g>
<g id="b-col8a1"><circle class="nb bb" cx="427" cy="1798" r="33"/><text class="lb" x="467" y="1817">COL8A1</text></g>
<g id="b-col7a1"><circle class="nb bb" cx="360" cy="1837" r="33"/><text class="lb" x="396" y="1851">COL7A1</text></g>
<g id="b-col8a2"><circle class="nb bb" cx="503" cy="1825" r="33"/><text class="lb" x="547" y="1856">COL8A2</text></g>
<g id="b-col16a1"><circle class="nb bb" cx="445" cy="1876" r="33"/><text class="lb" x="480" y="1888">COL16A1</text></g>
</g>
<g id="b-prss23"><circle class="n bp" cx="795" cy="1659" r="15"/><text class="lb" x="814" y="1673">PRSS23</text></g>
<g id="b-ltbp1"><circle class="n bp" cx="938" cy="1630" r="15"/><text class="lb" x="957" y="1644">LTBP1</text></g>
<g id="b-itga10"><circle class="n bp" cx="1184" cy="1694" r="15"/><text class="lb" x="1203" y="1708">ITGA10</text></g>
<g id="b-igfbp3"><circle class="n bp" cx="897" cy="1751" r="15"/><text class="lb" x="916" y="1765">IGFBP3</text></g>
<g id="b-tnc"><circle class="n bp" cx="1025" cy="1780" r="20"/><text class="lb" x="1048" y="1794">TNC</text></g>
<g id="b-fstl3"><circle class="n bp" cx="764" cy="1793" r="15"/><text class="lb" x="783" y="1807">FSTL3</text></g>
<g id="b-itga11"><circle class="n bp" cx="1271" cy="1827" r="15"/><text class="lb" x="1290" y="1841">ITGA11</text></g>
<g id="b-cdh2"><circle class="n bp" cx="884" cy="1877" r="15"/><text class="lb" x="903" y="1891">CDH2</text></g>
<g id="b-itga4"><circle class="n bp" cx="1144" cy="1916" r="15"/><text class="lb" x="1163" y="1930">ITGA4</text></g>
<g id="b-grik4"><circle class="n bo" cx="396" cy="1995" r="15"/><text class="lb" x="415" y="2009">GRIK4</text></g>
<g id="b-mpp3"><circle class="n bo" cx="178" cy="2089" r="15"/><text class="lb" x="197" y="2103">MPP3</text></g>
<g id="b-mpp2"><circle class="n bo" cx="273" cy="2099" r="15"/><text class="lb" x="292" y="2113">MPP2</text></g>
<g id="b-mpp4"><circle class="n bo" cx="380" cy="2148" r="15"/><text class="lb" x="399" y="2162">MPP4</text></g>
<g id="b-mpp7"><circle class="n bo" cx="455" cy="2212" r="15"/><text class="lb" x="474" y="2226">MPP7</text></g>
<g id="b-grid1"><circle class="n bo" cx="216" cy="2258" r="15"/><text class="lb" x="235" y="2272">GRID1</text></g>
<g id="b-ltbp2"><circle class="n bo" cx="299" cy="2295" r="15"/><text class="lb" x="318" y="2309">LTBP2</text></g>
<g id="b-sost"><circle class="n bk" cx="785" cy="1990" r="15"/><text class="lb" x="804" y="2004">SOST</text></g>
<g id="b-wnt9a"><circle class="n bk" cx="663" cy="2069" r="15"/><text class="lb" x="682" y="2083">WNT9A</text></g>
<g id="b-fzd8"><circle class="n bk" cx="842" cy="2121" r="15"/><text class="lb" x="861" y="2135">FZD8</text></g>
<g id="b-wnt2"><circle class="n bk" cx="632" cy="2170" r="15"/><text class="lb" x="651" y="2184">WNT2</text></g>
<g id="b-wnt7b"><circle class="n bk" cx="813" cy="2227" r="15"/><text class="lb" x="832" y="2241">WNT7B</text></g>
<g id="b-ptk7"><circle class="n bk" cx="694" cy="2300" r="15"/><text class="lb" x="713" y="2314">PTK7</text></g>
<g id="b-adamts6"><circle class="n bl" cx="357" cy="2415" r="15"/><text class="lb" x="376" y="2429">ADAMTS6</text></g>
<g id="b-sbspon"><circle class="n bl" cx="214" cy="2473" r="15"/><text class="lb" x="233" y="2487">SBSPON</text></g>
<g id="b-adamts8"><circle class="n bl" cx="415" cy="2562" r="15"/><text class="lb" x="434" y="2576">ADAMTS8</text></g>
<g id="b-adamts10"><circle class="n bl" cx="273" cy="2622" r="15"/><text class="lb" x="292" y="2636">ADAMTS10</text></g>
<g id="b-dsp"><circle class="n bg" cx="858" cy="2415" r="15"/><text class="lb" x="877" y="2429">DSP</text></g>
<g id="b-pkp1"><circle class="n bg" cx="757" cy="2443" r="15"/><text class="lb" x="776" y="2457">PKP1</text></g>
<g id="b-csta"><circle class="n bg" cx="979" cy="2477" r="15"/><text class="lb" x="998" y="2491">CSTA</text></g>
<g id="b-ccdc8"><circle class="n bg" cx="683" cy="2557" r="15"/><text class="lb" x="702" y="2571">CCDC8</text></g>
<g id="b-dsg2"><circle class="n bg" cx="905" cy="2592" r="15"/><text class="lb" x="924" y="2606">DSG2</text></g>
<g id="b-jup"><circle class="n bg" cx="802" cy="2618" r="15"/><text class="lb" x="821" y="2632">JUP</text></g>
<g id="b-catspere"><circle class="n bc" cx="1193" cy="2422" r="15"/><text class="lb" x="1212" y="2436">CATSPERE</text></g>
<g id="b-cacna1c"><circle class="n bc" cx="1322" cy="2422" r="15"/><text class="lb" x="1341" y="2436">CACNA1C</text></g>
<g id="b-stac3"><circle class="n bc" cx="1144" cy="2545" r="15"/><text class="lb" x="1163" y="2559">STAC3</text></g>
<g id="b-pde4d"><circle class="n bc" cx="1356" cy="2553" r="15"/><text class="lb" x="1375" y="2567">PDE4D</text></g>
<g id="b-cacna2d2"><circle class="n bc" cx="1247" cy="2632" r="15"/><text class="lb" x="1266" y="2646">CACNA2D2</text></g>

<g id="legend-b">
<rect class="bx" x="189" y="2780" width="69" height="44" fill="#0a56a8"/><text class="lm" x="279" y="2820" textLength="1124" lengthAdjust="spacingAndGlyphs">MCODE1-extracellular matrix structural constituents</text>
<rect class="bx" x="189" y="2847" width="69" height="44" fill="#7a2aa0"/><text class="lm" x="279" y="2887" textLength="1008" lengthAdjust="spacingAndGlyphs">MCODE2-fibronectin binding, integrin complex</text>
<rect class="bx" x="189" y="2915" width="69" height="44" fill="#ff8020"/><text class="lm" x="279" y="2955" textLength="943" lengthAdjust="spacingAndGlyphs">MCODE3-regulation of membrane potential</text>
<rect class="bx" x="189" y="2984" width="69" height="44" fill="#ff5cd0"/><text class="lm" x="279" y="3024" textLength="743" lengthAdjust="spacingAndGlyphs">MCODE4-cell-cell signaling by wnt</text>
<rect class="bx" x="189" y="3051" width="69" height="44" fill="#c0c0c0"/><text class="lm" x="279" y="3091" textLength="847" lengthAdjust="spacingAndGlyphs">MCODE5-cell adhesive protein binding</text>
<rect class="bx" x="189" y="3124" width="69" height="44" fill="#00ccff"/><text class="lm" x="279" y="3164" textLength="917" lengthAdjust="spacingAndGlyphs">MCODE6-cation/calcium channel complex</text>
<rect class="bx" x="189" y="3194" width="69" height="44" fill="#0099ff"/><text class="lm" x="279" y="3234" textLength="1180" lengthAdjust="spacingAndGlyphs">MCODE7-metalloendopeptidase in extracellular matrix</text>
</g>

<g id="c-oprl1"><circle class="nb bb" cx="1912" cy="1740" r="28"/><text class="lb" x="1947" y="1754">OPRL1</text></g>
<g id="c-s1pr1"><circle class="nb bb" cx="2007" cy="1733" r="28"/><text class="lb" x="2038" y="1754">S1PR1</text></g>
<g id="c-npb"><circle class="nb bb" cx="2093" cy="1778" r="28"/><text class="lb" x="2130" y="1792">NPB</text></g>
<g id="c-chrm2"><circle class="nb bb" cx="1923" cy="1838" r="28"/><text class="lb" x="1965" y="1847">CHRM2</text></g>
<g id="c-ptger3"><circle class="nb bb" cx="1832" cy="1833" r="28"/><text class="lb" x="1867" y="1851">PTGER3</text></g>
<g id="c-galr1"><circle class="nb bb" cx="2030" cy="1857" r="28"/><text class="lb" x="2057" y="1871">GALR1</text></g>
<g id="c-ccr3"><circle class="nb bb" cx="2130" cy="1880" r="28"/><text class="lb" x="2162" y="1894">CCR3</text></g>
<g id="c-lpar1"><circle class="nb bb" cx="1970" cy="1940" r="28"/><text class="lb" x="2002" y="1957">LPAR1</text></g>
<g id="c-ccr1"><circle class="nb bb" cx="1847" cy="1940" r="28"/><text class="lb" x="1882" y="1954">CCR1</text></g>
<g id="c-sstr1"><circle class="nb bb" cx="2088" cy="1970" r="28"/><text class="lb" x="2123" y="1986">SSTR1</text></g>
<g id="c-hcar1"><circle class="nb bb" cx="1908" cy="2023" r="28"/><text class="lb" x="1945" y="2037">HCAR1</text></g>
<g id="c-bdkrb2"><circle class="nb bb" cx="2020" cy="2037" r="28"/><text class="lb" x="2053" y="2049">BDKRB2</text></g>
<g id="c-kiaa0319"><circle class="n bp" cx="2424" cy="1618" r="17"/><text class="lb" x="2445" y="1632">KIAA0319</text></g>
<g id="c-snx18"><circle class="n bp" cx="2569" cy="1652" r="17"/><text class="lb" x="2590" y="1666">SNX18</text></g>
<g id="c-ap2s1"><circle class="n bp" cx="2353" cy="1750" r="17"/><text class="lb" x="2374" y="1764">AP2S1</text></g>
<g id="c-ston2"><circle class="n bp" cx="2585" cy="1798" r="17"/><text class="lb" x="2606" y="1812">STON2</text></g>
<g id="c-adrb2"><circle class="n bp" cx="2448" cy="1885" r="17"/><text class="lb" x="2469" y="1899">ADRB2</text></g>
<g id="c-gpr39"><circle class="n bp" cx="2336" cy="2096" r="17"/><text class="lb" x="2357" y="2110">GPR39</text></g>
<g id="c-adra1b"><circle class="n bp" cx="2476" cy="2126" r="17"/><text class="lb" x="2497" y="2140">ADRA1B</text></g>
<g id="c-htr2b"><circle class="n bp" cx="2257" cy="2235" r="17"/><text class="lb" x="2278" y="2249">HTR2B</text></g>
<g id="c-lpar6"><circle class="n bp" cx="2493" cy="2285" r="17"/><text class="lb" x="2514" y="2299">LPAR6</text></g>
<g id="c-nmb"><circle class="n bp" cx="2359" cy="2349" r="17"/><text class="lb" x="2380" y="2363">NMB</text></g>
<g id="c-fam20a"><circle class="n cy" cx="2896" cy="1803" r="20"/><text class="lb" x="2919" y="1817">FAM20A</text></g>
<g id="c-chrdl1"><circle class="n cy" cx="2998" cy="1845" r="20"/><text class="lb" x="3021" y="1859">CHRDL1</text></g>
<g id="c-apoe"><circle class="n cy" cx="2785" cy="1889" r="20"/><text class="lb" x="2808" y="1903">APOE</text></g>
<g id="c-bmp4"><circle class="n cy" cx="2879" cy="1918" r="20"/><text class="lb" x="2902" y="1932">BMP4</text></g>
<g id="c-gpc3"><circle class="n cy" cx="2947" cy="1977" r="20"/><text class="lb" x="2970" y="1991">GPC3</text></g>
<g id="c-igfbp4"><circle class="n cy" cx="3047" cy="1957" r="20"/><text class="lb" x="3070" y="1971">IGFBP4</text></g>
<g id="c-csf1"><circle class="n cy" cx="2790" cy="1997" r="20"/><text class="lb" x="2813" y="2011">CSF1</text></g>
<g id="c-hrc"><circle class="n cy" cx="2860" cy="2072" r="20"/><text class="lb" x="2883" y="2086">HRC</text></g>
<g id="c-scg2"><circle class="n cy" cx="2965" cy="2077" r="20"/><text class="lb" x="2988" y="2091">SCG2</text></g>
<g id="c-lama4"><circle class="n cb" cx="2807" cy="2199" r="16"/><text class="lb" x="2827" y="2213">LAMA4</text></g>
<g id="c-itga8"><circle class="n cb" cx="2979" cy="2204" r="16"/><text class="lb" x="2999" y="2218">ITGA8</text></g>
<g id="c-itgb8"><circle class="n cb" cx="2791" cy="2381" r="16"/><text class="lb" x="2811" y="2395">ITGB8</text></g>
<g id="c-lamb3"><circle class="n cb" cx="2977" cy="2368" r="16"/><text class="lb" x="2997" y="2382">LAMB3</text></g>
<g id="c-shc3"><circle class="n cb" cx="2590" cy="2478" r="16"/><text class="lb" x="2610" y="2492">SHC3</text></g>
<g id="c-kit"><circle class="n cb" cx="2447" cy="2551" r="16"/><text class="lb" x="2467" y="2565">KIT</text></g>
<g id="c-shc2"><circle class="n cb" cx="2696" cy="2582" r="16"/><text class="lb" x="2716" y="2596">SHC2</text></g>
<g id="c-pdgfd"><circle class="n cb" cx="2500" cy="2693" r="16"/><text class="lb" x="2520" y="2707">PDGFD</text></g>
<g id="c-kitlg"><circle class="n cb" cx="2604" cy="2709" r="16"/><text class="lb" x="2624" y="2723">KITLG</text></g>
<g id="c-rtn4rl1"><circle class="n bg" cx="2003" cy="2457" r="17"/><text class="lb" x="2024" y="2471">RTN4RL1</text></g>
<g id="c-lypd3"><circle class="n bg" cx="2135" cy="2452" r="17"/><text class="lb" x="2156" y="2466">LYPD3</text></g>
<g id="c-alpl"><circle class="n bg" cx="1940" cy="2578" r="17"/><text class="lb" x="1961" y="2592">ALPL</text></g>
<g id="c-lypd1"><circle class="n bg" cx="2204" cy="2576" r="17"/><text class="lb" x="2225" y="2590">LYPD1</text></g>
<g id="c-psca"><circle class="n bg" cx="2003" cy="2698" r="17"/><text class="lb" x="2024" y="2712">PSCA</text></g>
<g id="c-ly6k"><circle class="n bg" cx="2140" cy="2698" r="17"/><text class="lb" x="2161" y="2712">LY6K</text></g>
<g id="c-fras1"><circle class="n cp" cx="2870" cy="2521" r="15"/><text class="lb" x="2889" y="2535">FRAS1</text></g>
<g id="c-fzd5"><circle class="n cp" cx="3057" cy="2541" r="15"/><text class="lb" x="3076" y="2555">FZD5</text></g>
<g id="c-sfrp1"><circle class="n cp" cx="2948" cy="2703" r="15"/><text class="lb" x="2967" y="2717">SFRP1</text></g>

<g id="legend-c">
<rect class="bx" x="1830" y="2849" width="69" height="44" fill="#1060b0"/><text class="lm" x="1917" y="2889" textLength="1366" lengthAdjust="spacingAndGlyphs">MCODE1-signaling by GPCR, peptide ligand-binding receptors</text>
<rect class="bx" x="1830" y="2915" width="69" height="44" fill="#7a2aa0"/><text class="lm" x="1917" y="2955" textLength="868" lengthAdjust="spacingAndGlyphs">MCODE2-protein transport, endocytosis</text>
<rect class="bx" x="1830" y="2985" width="69" height="44" fill="#ffff00"/><text class="lm" x="1917" y="3025" textLength="1079" lengthAdjust="spacingAndGlyphs">MCODE3-ER luminal, epithelial cell differentiation</text>
<rect class="bx" x="1830" y="3053" width="69" height="44" fill="#993300"/><text class="lm" x="1917" y="3093" textLength="1160" lengthAdjust="spacingAndGlyphs">MCODE4-adhesion molecules, MAP&#160; kinase signaling</text>
<rect class="bx" x="1830" y="3122" width="69" height="44" fill="#c0c0c0"/><text class="lm" x="1917" y="3162" textLength="991" lengthAdjust="spacingAndGlyphs">MCODE5-anchored component of membrane</text>
<rect class="bx" x="1830" y="3194" width="69" height="44" fill="#ff99ee"/><text class="lm" x="1917" y="3234" textLength="710" lengthAdjust="spacingAndGlyphs">MCODE6-tissue morphogenesis</text>
</g>
</svg>
